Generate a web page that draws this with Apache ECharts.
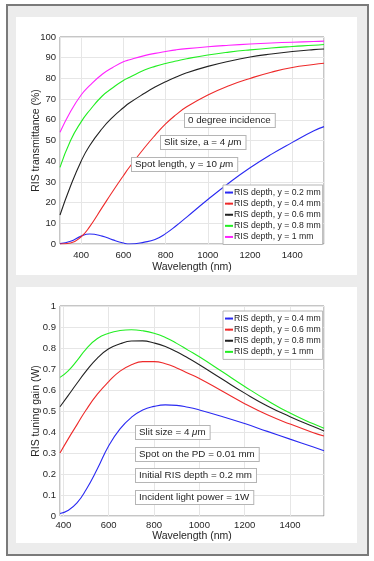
<!DOCTYPE html>
<html>
<head>
<meta charset="utf-8">
<script src="https://cdn.jsdelivr.net/npm/echarts@6/dist/echarts.min.js"></script>
<style>
  html, body { margin: 0; padding: 0; background: #fff; }
  #chart { width: 374px; height: 561px; }
</style>
</head>
<body>
<div id="chart"></div>
<script>
// top panel: RIS transmittance (%) vs wavelength (nm)
const wlTop = [300, 350, 400, 440, 500, 550, 600, 630, 700, 750, 800, 850, 900, 1000, 1100, 1200, 1300, 1400, 1500, 1550];
const trans02 = [0.2, 1.3, 3.8, 4.8, 3.8, 2, 0.5, 0, 0.9, 2.2, 5, 8.8, 13, 21.5, 29.5, 36.8, 43.3, 49.1, 54.6, 56.7];
const trans04 = [0, 0.5, 3.5, 8.3, 17.7, 25.5, 33, 37.3, 46.5, 52.5, 58, 62.5, 66.3, 72, 76.5, 80, 83, 85.3, 86.7, 87.3];
const trans06 = [14, 28, 40, 47.5, 55.8, 61.3, 65.8, 68.2, 72.8, 75.8, 78.4, 80.7, 82.7, 85.8, 88.3, 90.3, 91.8, 93, 93.9, 94.2];
const trans08 = [37, 50, 59, 64.5, 71.5, 75.5, 79, 80.5, 84, 85.8, 87.2, 88.4, 89.5, 91.3, 92.7, 93.8, 94.7, 95.4, 96, 96.4];
const trans10 = [54, 64, 72, 76.5, 82, 85.3, 88, 89, 91, 92.1, 93, 93.8, 94.4, 95.3, 96, 96.6, 97.1, 97.5, 97.8, 98];
const namesTop = ['RIS depth, y = 0.2 mm', 'RIS depth, y = 0.4 mm', 'RIS depth, y = 0.6 mm', 'RIS depth, y = 0.8 mm', 'RIS depth, y = 1 mm'];

// bottom panel: RIS tuning gain (W) vs wavelength (nm)
const wlBot = [385, 420, 460, 500, 550, 600, 650, 700, 750, 800, 850, 900, 950, 1000, 1100, 1200, 1300, 1400, 1500, 1550];
const gain04 = [0.012, 0.026, 0.062, 0.125, 0.225, 0.335, 0.415, 0.47, 0.505, 0.522, 0.529, 0.527, 0.518, 0.505, 0.474, 0.44, 0.403, 0.366, 0.33, 0.311];
const gain06 = [0.30, 0.365, 0.435, 0.505, 0.58, 0.64, 0.69, 0.72, 0.735, 0.735, 0.725, 0.705, 0.68, 0.655, 0.595, 0.535, 0.482, 0.438, 0.398, 0.381];
const gain08 = [0.52, 0.572, 0.632, 0.69, 0.752, 0.796, 0.82, 0.833, 0.834, 0.824, 0.807, 0.782, 0.752, 0.72, 0.652, 0.585, 0.524, 0.473, 0.427, 0.405];
const gain10 = [0.66, 0.69, 0.74, 0.795, 0.845, 0.87, 0.883, 0.887, 0.882, 0.87, 0.85, 0.822, 0.79, 0.758, 0.688, 0.617, 0.55, 0.49, 0.44, 0.418];
// zero-width space keeps bottom legend names apart from the top ones
const namesBot = ['RIS depth, y = 0.4 mm\u200b', 'RIS depth, y = 0.6 mm\u200b', 'RIS depth, y = 0.8 mm\u200b', 'RIS depth, y = 1 mm\u200b'];

const colorsTop = ['#2a2af2', '#ee2a2a', '#222222', '#22ee22', '#ff22ff'];
const colorsBot = ['#2a2af2', '#ee2a2a', '#222222', '#22ee22'];

const FONT = 'Liberation Sans, Arial, Helvetica, sans-serif';
const TXT = '#262626';

function pairs(xs, ys) {
  return xs.map(function (x, i) { return [x, ys[i]]; });
}

function lineSeries(name, xs, ys, color, idx) {
  return {
    name: name,
    type: 'line',
    xAxisIndex: idx,
    yAxisIndex: idx,
    data: pairs(xs, ys),
    symbol: 'none',
    smooth: 0.5,
    lineStyle: { color: color, width: 1.1 },
    itemStyle: { color: color },
    clip: true
  };
}

function xAxisCfg(idx, min, margin, gap) {
  return {
    type: 'value',
    gridIndex: idx,
    min: min,
    max: 1550,
    splitNumber: 6,
    name: 'Wavelength (nm)',
    nameLocation: 'middle',
    nameGap: gap,
    nameMoveOverlap: false,
    nameTextStyle: { color: TXT, fontSize: 10.5, fontFamily: FONT },
    axisLine: { show: false },
    axisTick: { show: false },
    axisLabel: {
      color: TXT, fontSize: 9.5, fontFamily: FONT, margin: margin,
      showMinLabel: false, showMaxLabel: false,
      formatter: function (v) { return String(v); }
    },
    splitLine: { show: true, lineStyle: { color: '#e6e6e6', width: 1 } }
  };
}

function yAxisCfg(idx, max, interval, name) {
  return {
    type: 'value',
    gridIndex: idx,
    min: 0,
    max: max,
    interval: interval,
    name: name,
    nameLocation: 'middle',
    nameGap: 18,
    nameMoveOverlap: false,
    nameTextStyle: { color: TXT, fontSize: 10.5, fontFamily: FONT },
    axisLine: { show: false },
    axisTick: { show: false },
    axisLabel: { color: TXT, fontSize: 9.5, fontFamily: FONT, margin: 4 },
    splitLine: { show: true, lineStyle: { color: '#e6e6e6', width: 1 } }
  };
}

function legendCfg(names, colors, left, top) {
  return {
    orient: 'vertical',
    left: left,
    top: top,
    data: names.map(function (n, i) {
      return { name: n, itemStyle: { color: colors[i] } };
    }),
    itemWidth: 8,
    itemHeight: 2,
    itemGap: 0,
    padding: [2, 2, 2, 1],
    backgroundColor: '#fff',
    borderColor: '#b5b5b5',
    borderWidth: 1,
    textStyle: { color: TXT, fontSize: 8.7, fontFamily: FONT, lineHeight: 11.1, padding: [0, 0, 0, -4] },
    selectedMode: false
  };
}

function note(text, x, y) {
  return {
    type: 'text',
    x: x,
    y: y,
    z: 50,
    style: {
      text: text,
      fill: TXT,
      font: '9.8px ' + FONT,
      lineHeight: 11,
      backgroundColor: '#fff',
      borderColor: '#b5b5b5',
      borderWidth: 1,
      padding: [1, 4, 1, 3],
      rich: {
        i: { fontStyle: 'italic', fontSize: 9.8, fontFamily: FONT, fill: TXT }
      }
    }
  };
}

const chart = echarts.init(document.getElementById('chart'));

const series = [];
[trans02, trans04, trans06, trans08, trans10].forEach(function (ys, i) {
  series.push(lineSeries(namesTop[i], wlTop, ys, colorsTop[i], 0));
});
[gain04, gain06, gain08, gain10].forEach(function (ys, i) {
  series.push(lineSeries(namesBot[i], wlBot, ys, colorsBot[i], 1));
});

chart.setOption({
  animation: false,
  backgroundColor: '#fff',
  textStyle: { fontFamily: FONT },
  graphic: [
    { type: 'rect', z: -10, shape: { x: 7, y: 5, width: 361, height: 550 }, style: { fill: '#ececec', stroke: '#7a7a7a', lineWidth: 2 } },
    { type: 'rect', z: -9, shape: { x: 16, y: 17, width: 341, height: 258 }, style: { fill: '#fff' } },
    { type: 'rect', z: -9, shape: { x: 16, y: 287, width: 341, height: 256 }, style: { fill: '#fff' } },
    note('0 degree incidence', 185, 114),
    note('Slit size, a = 4 {i|μ}m', 161, 136),
    note('Spot length, y = 10 {i|μ}m', 132, 158),
    note('Slit size = 4 {i|μ}m', 136, 426),
    note('Spot on the PD = 0.01 mm', 136, 448),
    note('Initial RIS depth = 0.2 mm', 136, 469),
    note('Incident light power = 1W', 136, 491)
  ],
  grid: [
    { left: 60, top: 37, width: 264, height: 207, show: true, borderColor: '#8c8c8c', borderWidth: 1, backgroundColor: 'transparent' },
    { left: 60, top: 306, width: 264, height: 210, show: true, borderColor: '#8c8c8c', borderWidth: 1, backgroundColor: 'transparent' }
  ],
  xAxis: [xAxisCfg(0, 300, 6, 18), xAxisCfg(1, 385, 4, 15)],
  yAxis: [yAxisCfg(0, 100, 10, 'RIS transmittance (%)'), yAxisCfg(1, 1, 0.1, 'RIS tuning gain (W)')],
  legend: [legendCfg(namesTop, colorsTop, 223, 185), legendCfg(namesBot, colorsBot, 223, 311)],
  series: series
});
</script>
</body>
</html>
